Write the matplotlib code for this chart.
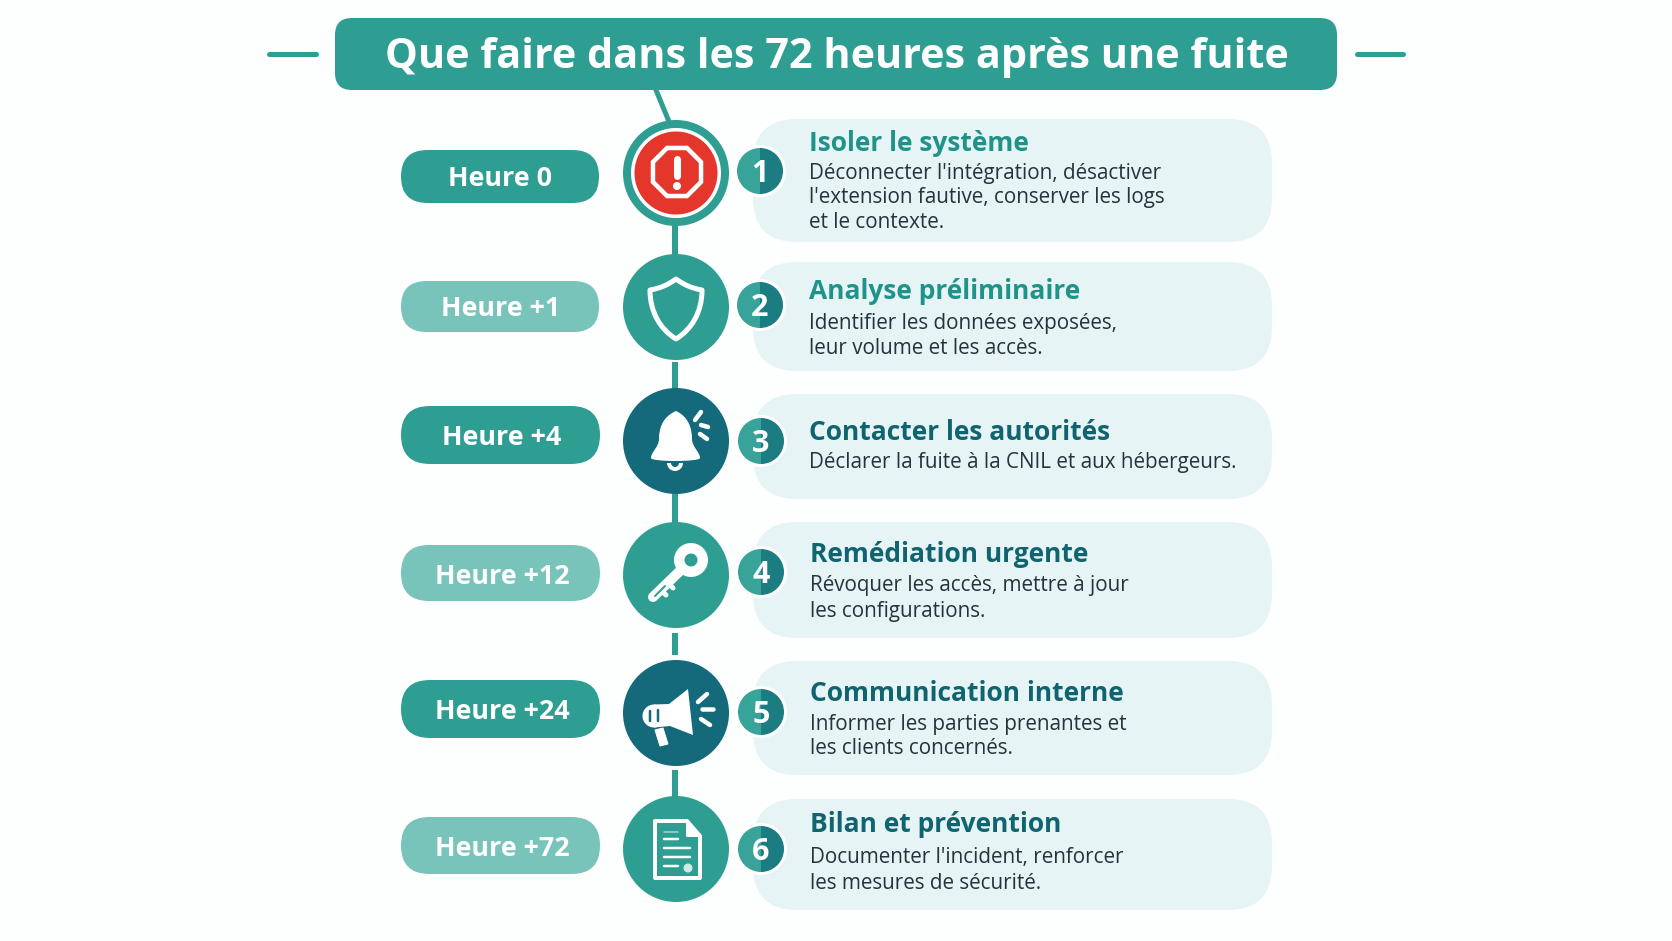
import matplotlib
matplotlib.use("Agg")
import matplotlib.pyplot as plt
from matplotlib.patches import Circle, FancyBboxPatch, PathPatch, Polygon, RegularPolygon, Wedge
from matplotlib.path import Path

plt.rcParams['font.family'] = ['Open Sans', 'DejaVu Sans']

TITLE = "Que faire dans les 72 heures après une fuite"
hours = ["Heure 0", "Heure +1", "Heure +4", "Heure +12", "Heure +24", "Heure +72"]
numbers = ["1", "2", "3", "4", "5", "6"]
step_titles = ["Isoler le système", "Analyse préliminaire", "Contacter les autorités",
               "Remédiation urgente", "Communication interne", "Bilan et prévention"]
step_bodies = [
    ["Déconnecter l'intégration, désactiver", "l'extension fautive, conserver les logs", "et le contexte."],
    ["Identifier les données exposées,", "leur volume et les accès."],
    ["Déclarer la fuite à la CNIL et aux hébergeurs."],
    ["Révoquer les accès, mettre à jour", "les configurations."],
    ["Informer les parties prenantes et", "les clients concernés."],
    ["Documenter l'incident, renforcer", "les mesures de sécurité."],
]

# layout, in pixels
circle_y = [173, 307, 441, 575, 713, 849]
pill_box = [(150, 203), (281, 332), (406, 464), (545, 601), (680, 738), (817, 874)]
pill_right = [599, 599, 600, 600, 600, 600]
pill_text_x = [500, 501, 502, 502, 502, 502]
pill_text_y = [186, 316, 445, 584, 719, 856]
card_box = [(119, 242), (262, 371), (394, 499), (522, 638), (661, 775), (799, 910)]
badge_y = [171, 305, 441, 572, 712, 849]
badge_x = [760, 760, 761, 761, 761, 761]
title_y = [151, 299, 440, 562, 701, 832]
title_x = [809, 809, 809, 810, 810, 810]
body_y = [[179, 203, 228], [329, 354], [468], [591, 617], [730, 754], [863, 889]]
links = [(225, 258), (362, 390), (494, 524), (633, 655), (770, 798)]

TEAL = "#2E9E93"
DARK = "#14697A"
PALE = "#79C4BA"
CARD = "#E7F4F5"
RED = "#E4362B"
pill_colors = [TEAL, PALE, TEAL, PALE, TEAL, PALE]
circle_colors = [TEAL, TEAL, DARK, TEAL, DARK, TEAL]
title_colors = ["#1F9389", "#1F9389", "#0F6470", "#0F6470", "#0F6470", "#0F6470"]


def px(w):
    return w * 0.72


def rounded(ax, x0, y0, x1, y1, r, color, z=2):
    ax.add_patch(FancyBboxPatch((x0 + r, y0 + r), x1 - x0 - 2 * r, y1 - y0 - 2 * r,
                                boxstyle="round,pad=%g,rounding_size=%g" % (r, r),
                                fc=color, ec="none", zorder=z))


def stroke(ax, cx, cy, pts, w, color="white", z=6, cap="round"):
    xs = [cx + p[0] for p in pts]
    ys = [cy + p[1] for p in pts]
    ax.plot(xs, ys, color=color, lw=px(w), solid_capstyle=cap, solid_joinstyle="round", zorder=z)


def curve(ax, cx, cy, verts, codes, fc="white", ec="none", w=0, z=6):
    moved = [(cx + v[0], cy + v[1]) for v in verts]
    ax.add_patch(PathPatch(Path(moved, codes), fc=fc, ec=ec, lw=px(w), joinstyle="round", zorder=z))


def draw_stop(ax, cx, cy):
    ax.add_patch(Circle((cx, cy), 45, fc="white", ec="none", zorder=5))
    ax.add_patch(Circle((cx, cy), 41.5, fc=RED, ec="none", zorder=5))
    ax.add_patch(RegularPolygon((cx + 1, cy - 1), 8, radius=26, orientation=3.14159 / 8,
                                fc="none", ec="white", lw=px(4.5), zorder=6))
    stroke(ax, cx + 1, cy, [(0, -14), (0, 3)], 7)
    ax.add_patch(Circle((cx + 1, cy + 13), 4, fc="white", ec="none", zorder=6))


def draw_shield(ax, cx, cy):
    C4, C3, M = Path.CURVE4, Path.CURVE3, Path.MOVETO
    verts = [(1, -28), (-11, -19), (-25, -17), (-25, 5), (-15, 22), (1, 32),
             (17, 22), (27, 5), (27, -17), (13, -19), (1, -28), (1, -28)]
    codes = [M, C3, C3, C4, C4, C4, C4, C4, C4, C3, C3, Path.CLOSEPOLY]
    curve(ax, cx - 1, cy, verts, codes, fc="none", ec="white", w=5)


def draw_bell(ax, cx, cy):
    C4, M = Path.CURVE4, Path.MOVETO
    verts = [(0, -30), (-14, -24), (-17, -12), (-17, -2), (-17, 6), (-25, 11), (-25, 17),
             (-25, 21), (24, 21), (24, 17), (24, 11), (16, 6), (16, -2),
             (16, -12), (13, -24), (0, -30), (0, -30)]
    codes = [M] + [C4] * 15 + [Path.CLOSEPOLY]
    curve(ax, cx, cy, verts, codes)
    ax.add_patch(Wedge((cx - 1, cy + 22), 8, 0, 180, width=4, fc="white", ec="none", zorder=6))
    stroke(ax, cx, cy, [(19, -21), (25, -29)], 4.5)
    stroke(ax, cx, cy, [(25, -16), (32, -14)], 4.5)
    stroke(ax, cx, cy, [(24, -7), (31, -2)], 4.5)


def draw_key(ax, cx, cy):
    ax.add_patch(Circle((cx + 15, cy - 15), 17, fc="white", ec="none", zorder=6))
    ax.add_patch(Circle((cx + 15, cy - 15), 6.5, fc=TEAL, ec="none", zorder=7))
    stroke(ax, cx, cy, [(7, -7), (-23, 22)], 10)
    stroke(ax, cx, cy, [(-8, 8), (-3, 13)], 5)
    stroke(ax, cx, cy, [(-15, 15), (-10, 20)], 5)
    stroke(ax, cx, cy, [(-21, 21), (-11, 11)], 2, color=TEAL, z=7)


def draw_megaphone(ax, cx, cy):
    ax.add_patch(Circle((cx - 22, cy + 3), 11.5, fc="white", ec="none", zorder=6))
    ax.add_patch(Polygon([(cx - 22, cy - 8.5), (cx - 7, cy - 9), (cx + 12, cy - 24),
                          (cx + 17, cy + 22), (cx - 6, cy + 13), (cx - 22, cy + 14.5)],
                         closed=True, fc="white", ec="none", zorder=6))
    ax.add_patch(Polygon([(cx - 21, cy + 17), (cx - 13, cy + 15), (cx - 8, cy + 31), (cx - 16, cy + 33)],
                         closed=True, fc="white", ec="white", lw=px(1), zorder=6))
    stroke(ax, cx, cy, [(-26, -2), (-26, 8)], 2.5, color=DARK, z=7)
    stroke(ax, cx, cy, [(-18, -3), (-18, 8)], 2.5, color=DARK, z=7)
    stroke(ax, cx, cy, [(22, -11), (31, -19)], 4.5)
    stroke(ax, cx, cy, [(26, -4), (37, -4)], 4.5)
    stroke(ax, cx, cy, [(25, 6), (34, 12)], 4.5)


def draw_doc(ax, cx, cy):
    L, M = Path.LINETO, Path.MOVETO
    verts = [(-21, -28), (11, -28), (24, -13), (24, 29), (-21, 29), (-21, -28), (-21, -28)]
    codes = [M, L, L, L, L, L, Path.CLOSEPOLY]
    curve(ax, cx, cy, verts, codes, fc="none", ec="white", w=4)
    ax.add_patch(Polygon([(cx + 11, cy - 28), (cx + 11, cy - 13), (cx + 24, cy - 13)],
                         closed=True, fc="white", ec="white", lw=px(2), joinstyle="round", zorder=6))
    stroke(ax, cx, cy, [(-12, -17), (2, -17)], 1.5, color="#A8D8D2")
    stroke(ax, cx, cy, [(-12, -10), (2, -10)], 2.5)
    stroke(ax, cx, cy, [(-12, -1), (14, -1)], 2.5)
    stroke(ax, cx, cy, [(-12, 8), (14, 8)], 2.5)
    stroke(ax, cx, cy, [(-12, 17), (2, 17)], 2.5)
    ax.add_patch(Circle((cx + 12, cy + 19), 4.5, fc="#CFEAE6", ec="none", zorder=6))


icons = [draw_stop, draw_shield, draw_bell, draw_key, draw_megaphone, draw_doc]

fig = plt.figure(figsize=(16.72, 9.41), dpi=100, facecolor="#FDFEFE")
ax = fig.add_axes([0, 0, 1, 1])
ax.set_xlim(0, 1672)
ax.set_ylim(941, 0)
ax.axis("off")

# header
rounded(ax, 335, 18, 1337, 90, 17, TEAL)
ax.text(837, 68, TITLE, color="white", fontsize=29.8, fontweight="bold", ha="center", va="baseline", zorder=3)
ax.plot([269, 316], [54, 54], color=TEAL, lw=px(5), solid_capstyle="round")
ax.plot([1357, 1403], [54, 54], color=TEAL, lw=px(5), solid_capstyle="round")
ax.plot([656, 670], [90, 124], color=TEAL, lw=px(5), zorder=1)

for y0, y1 in links:
    ax.plot([675, 675], [y0, y1], color=TEAL, lw=px(6), solid_capstyle="butt", zorder=1)

for i in range(6):
    # hour pill
    y0, y1 = pill_box[i]
    rounded(ax, 401, y0, pill_right[i], y1, (y1 - y0) / 2, pill_colors[i])
    ax.text(pill_text_x[i], pill_text_y[i], hours[i], color="white", fontsize=19.4, fontweight="bold",
            ha="center", va="baseline", zorder=3)

    # card
    y0, y1 = card_box[i]
    rounded(ax, 753, y0, 1272, y1, 44, CARD)
    ax.text(title_x[i], title_y[i], step_titles[i], color=title_colors[i], fontsize=19, fontweight="bold",
            ha="left", va="baseline", zorder=3)
    for line, y in zip(step_bodies[i], body_y[i]):
        ax.text(title_x[i], y, line, color="#24343C", fontsize=14.9, ha="left", va="baseline", zorder=3)

    # icon circle
    ax.add_patch(Circle((676, circle_y[i]), 53, fc=circle_colors[i], ec="none", zorder=4))
    icons[i](ax, 676, circle_y[i])

    # number badge
    bx, by = badge_x[i], badge_y[i]
    ax.add_patch(Circle((bx, by), 26, fc="white", ec="none", zorder=5))
    ax.add_patch(Wedge((bx, by), 23, 90, 270, fc="#38A398", ec="none", zorder=6))
    ax.add_patch(Wedge((bx, by), 23, -90, 90, fc="#1B7C82", ec="none", zorder=6))
    ax.text(bx, by + 11, numbers[i], color="white", fontsize=22, fontweight="bold",
            ha="center", va="baseline", zorder=7)

fig.savefig("out.png", dpi=100, facecolor=fig.get_facecolor())
